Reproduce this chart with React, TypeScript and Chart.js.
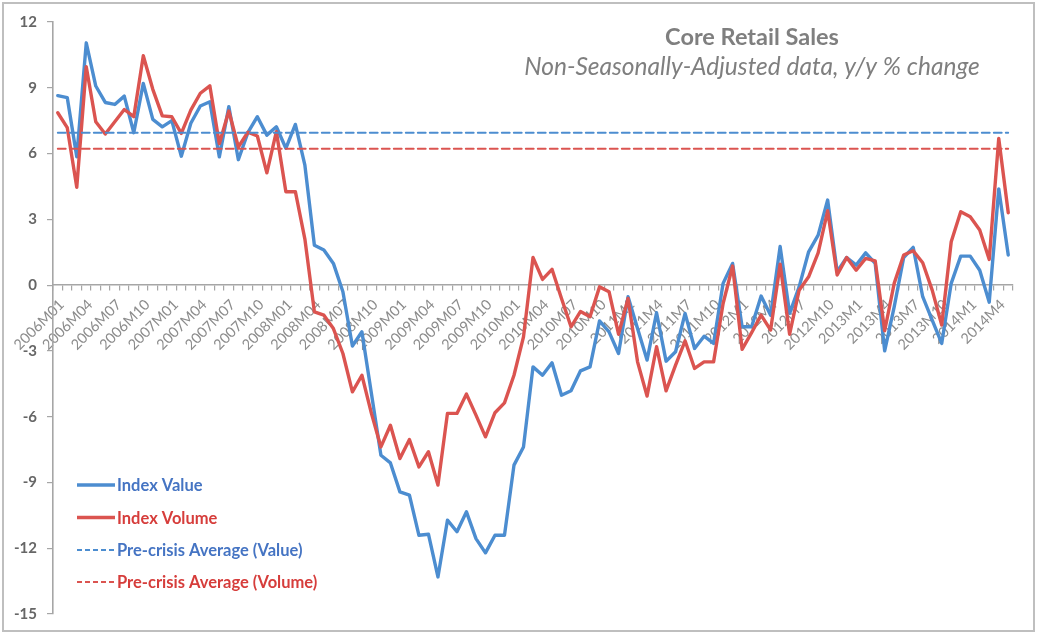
import { useEffect, useRef } from "react";
import { Chart, registerables } from "chart.js";

Chart.register(...registerables);

// monthly categories, 2006M01 .. 2014M5 (leading zero dropped from 2011 on, as in the source)
const months: string[] = [];
for (let y = 2006; y <= 2014; y++) {
  for (let m = 1; m <= 12; m++) {
    if (y === 2014 && m > 5) break;
    months.push(y <= 2010 ? `${y}M${String(m).padStart(2, "0")}` : `${y}M${m}`);
  }
}

const indexValue = [
  8.64, 8.55, 5.85, 11.05, 9.08, 8.33, 8.24, 8.62, 6.95, 9.2, 7.56, 7.22,
  7.5, 5.88, 7.38, 8.17, 8.36, 5.85, 8.14, 5.72, 6.95, 7.68, 6.84, 7.22,
  6.24, 7.33, 5.47, 1.82, 1.6, 0.99, -0.3, -2.78, -2.13, -4.94, -7.76, -8.11,
  -9.43, -9.58, -11.41, -11.36, -13.31, -10.72, -11.25, -10.34, -11.56, -12.21, -11.41, -11.41,
  -8.21, -7.38, -3.73, -4.11, -3.54, -5.02, -4.82, -3.91, -3.73, -1.63, -2.13, -3.12,
  -0.53, -1.98, -3.42, -1.26, -3.47, -3.04, -1.29, -2.89, -2.33, -2.66, 0.08, 0.99,
  -1.9, -1.9, -0.5, -1.37, 1.76, -1.29, -0.08, 1.52, 2.28, 3.88, 0.61, 1.26,
  0.91, 1.47, 0.99, -3.0, -0.99, 1.26, 1.72, -0.53, -1.6, -2.66, 0.08, 1.32,
  1.32, 0.68, -0.78, 4.39, 1.37,
];

const indexVolume = [
  7.86, 7.18, 4.46, 9.96, 7.45, 6.89, 7.45, 8.01, 7.68, 10.46, 8.93, 7.72,
  7.68, 6.92, 7.98, 8.75, 9.09, 6.45, 7.94, 6.3, 6.97, 6.8, 5.12, 7.0,
  4.26, 4.26, 2.1, -1.22, -1.37, -1.98, -3.12, -4.87, -4.11, -5.85, -7.38, -6.39,
  -7.91, -7.04, -8.29, -7.6, -9.12, -5.85, -5.85, -4.97, -5.93, -6.92, -5.82, -5.37,
  -4.11, -2.36, 1.26, 0.26, 0.72, -0.61, -1.9, -1.2, -1.44, -0.08, -0.3, -2.24,
  -0.61, -3.5, -5.06, -2.81, -4.82, -3.65, -2.54, -3.8, -3.5, -3.5, -0.84, 0.87,
  -2.93, -2.17, -1.37, -2.05, 0.95, -2.24, -0.23, 0.38, 1.47, 3.39, 0.46, 1.26,
  0.68, 1.22, 1.11, -2.08, 0.08, 1.37, 1.57, 1.02, -0.23, -1.82, 1.98, 3.35,
  3.12, 2.51, 1.17, 6.69, 3.3,
];

// pre-crisis averages
const valueAverage = 6.95;
const volumeAverage = 6.22;

const yMin = -15;
const yMax = 12;
const yStep = 3;

const seriesNames = [
  "Index Value",
  "Index Volume",
  "Pre-crisis Average (Value)",
  "Pre-crisis Average (Volume)",
];
const blue = "#4c8dd0";
const red = "#db5450";
const legendText = ["#4574c3", "#d63d3b", "#4574c3", "#d63d3b"];

const titleText = "Core Retail Sales";
const subtitleText = "Non-Seasonally-Adjusted data, y/y % change";

const FONT = "Lato, 'Open Sans', sans-serif";

const framePlugin = {
  id: "frame",
  beforeDraw(chart: Chart) {
    const { ctx, width, height } = chart;
    ctx.save();
    ctx.fillStyle = "#ffffff";
    ctx.fillRect(0, 0, width, height);
    ctx.strokeStyle = "#bfbfbf";
    ctx.lineWidth = 2;
    ctx.strokeRect(3, 3, width - 6, height - 6);
    ctx.restore();
  },
  afterDraw(chart: Chart) {
    const { ctx } = chart;
    ctx.save();
    // titles
    ctx.textAlign = "center";
    ctx.textBaseline = "middle";
    ctx.fillStyle = "#7f7f7f";
    ctx.font = `bold 23.5px ${FONT}`;
    ctx.fillText(titleText, 752, 37);
    ctx.font = `italic 24.5px ${FONT}`;
    ctx.fillText(subtitleText, 752, 67);

    // legend inside the plot
    const rows = [485, 517.5, 550, 582];
    chart.data.datasets.forEach((ds: any, i: number) => {
      const y = rows[i];
      ctx.beginPath();
      ctx.strokeStyle = ds.borderColor;
      ctx.lineWidth = ds.borderWidth;
      ctx.setLineDash(ds.borderDash && ds.borderDash.length ? [5, 3] : []);
      ctx.moveTo(77, y);
      ctx.lineTo(115, y);
      ctx.stroke();
      ctx.setLineDash([]);
      ctx.textAlign = "left";
      ctx.font = `bold 16.5px ${FONT}`;
      ctx.fillStyle = legendText[i];
      ctx.fillText(ds.label, 117, y + 1);
    });
    ctx.restore();
  },
};

export default function App() {
  const canvasRef = useRef<HTMLCanvasElement>(null);
  const chartRef = useRef<Chart | null>(null);

  useEffect(() => {
    if (!canvasRef.current) return;
    if (chartRef.current) chartRef.current.destroy();
    const ctx = canvasRef.current.getContext("2d");
    if (!ctx) return;

    chartRef.current = new Chart(ctx, {
      type: "line",
      data: {
        labels: months,
        datasets: [
          {
            label: seriesNames[0],
            data: indexValue,
            borderColor: blue,
            borderWidth: 3.4,
            order: 3,
          },
          {
            label: seriesNames[1],
            data: indexVolume,
            borderColor: red,
            borderWidth: 3.4,
            order: 2,
          },
          {
            label: seriesNames[2],
            data: months.map(() => valueAverage),
            borderColor: blue,
            borderWidth: 1.8,
            borderDash: [8, 4],
            order: 1,
          },
          {
            label: seriesNames[3],
            data: months.map(() => volumeAverage),
            borderColor: red,
            borderWidth: 1.8,
            borderDash: [8, 4],
            order: 0,
          },
        ],
      },
      options: {
        animation: false,
        responsive: true,
        maintainAspectRatio: false,
        layout: { padding: { left: 0, top: 22, right: 24, bottom: 20 } },
        elements: {
          point: { radius: 0, hoverRadius: 0 },
          line: { tension: 0, borderJoinStyle: "round", borderCapStyle: "round" },
        },
        scales: {
          x: {
            type: "category",
            position: { y: 0 },
            offset: true,
            grid: {
              offset: true,
              drawOnChartArea: false,
              drawTicks: true,
              tickLength: 5,
              color: "#a6a6a6",
              lineWidth: 1.2,
            },
            border: { display: true, color: "#a6a6a6", width: 1.6 },
            ticks: {
              autoSkip: false,
              minRotation: 45,
              maxRotation: 45,
              padding: 6,
              labelOffset: 4,
              color: "#8c8c8c",
              font: { family: FONT, size: 14.5 },
              callback: (_v: any, i: number) => (i % 3 === 0 ? months[i] : ""),
            },
            afterFit: (scale: any) => {
              scale.height = 0;
              scale.paddingLeft = 0;
              scale.paddingRight = 0;
              scale.paddingTop = 0;
              scale.paddingBottom = 0;
            },
          },
          y: {
            min: yMin,
            max: yMax,
            grid: {
              drawOnChartArea: false,
              drawTicks: true,
              tickLength: 6,
              color: "#a6a6a6",
              lineWidth: 1.2,
            },
            border: { display: true, color: "#a6a6a6", width: 1.6 },
            ticks: {
              stepSize: yStep,
              padding: 10,
              color: "#666666",
              font: { family: FONT, size: 15, weight: "bold" },
            },
            afterFit: (scale: any) => {
              scale.width = 53;
              scale.paddingTop = 0;
              scale.paddingBottom = 0;
            },
          },
        },
        plugins: {
          legend: { display: false },
          tooltip: { enabled: false },
        },
      },
      plugins: [framePlugin],
    } as any);

    return () => {
      if (chartRef.current) {
        chartRef.current.destroy();
        chartRef.current = null;
      }
    };
  }, []);

  return (
    <div style={{ position: "absolute", left: 0, top: 0, width: 1037, height: 634 }}>
      <canvas ref={canvasRef} />
    </div>
  );
}
